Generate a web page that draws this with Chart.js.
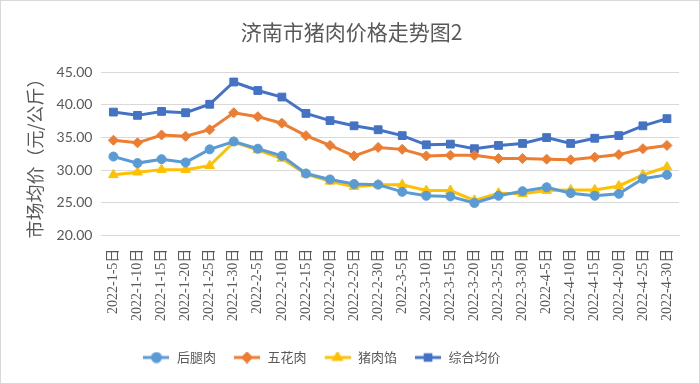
<!DOCTYPE html>
<html>
<head>
<meta charset="utf-8">
<script src="https://cdn.jsdelivr.net/npm/chart.js@4.4.1/dist/chart.umd.min.js"></script>
<style>
  html, body { margin: 0; padding: 0; background: #fff; }
  #wrap { width: 700px; height: 384px; box-sizing: border-box; border: 1px solid #d9d9d9; }
  canvas { display: block; }
</style>
</head>
<body>
<div id="wrap"><canvas id="chart" width="698" height="382"></canvas></div>
<script>
// Category labels (5-day intervals)
const dates = [
  '2022-1-5日', '2022-1-10日', '2022-1-15日', '2022-1-20日', '2022-1-25日', '2022-1-30日',
  '2022-2-5日', '2022-2-10日', '2022-2-15日', '2022-2-20日', '2022-2-25日', '2022-2-30日',
  '2022-3-5日', '2022-3-10日', '2022-3-15日', '2022-3-20日', '2022-3-25日', '2022-3-30日',
  '2022-4-5日', '2022-4-10日', '2022-4-15日', '2022-4-20日', '2022-4-25日', '2022-4-30日'
];

// Series values (yuan / kg)
const houTuiRou = [32.1, 31.1, 31.7, 31.2, 33.2, 34.4, 33.3, 32.2, 29.5, 28.6, 27.9, 27.8,
                   26.7, 26.1, 26.0, 25.0, 26.1, 26.8, 27.4, 26.5, 26.1, 26.4, 28.7, 29.3];
const wuHuaRou = [34.6, 34.2, 35.4, 35.2, 36.2, 38.8, 38.2, 37.2, 35.3, 33.8, 32.2, 33.5,
                  33.2, 32.2, 32.3, 32.3, 31.8, 31.8, 31.7, 31.6, 32.0, 32.4, 33.3, 33.8];
const zhuRouXian = [29.3, 29.7, 30.1, 30.1, 30.7, 34.3, 33.1, 31.8, 29.4, 28.3, 27.5, 27.8,
                    27.8, 26.9, 26.9, 25.4, 26.5, 26.4, 26.9, 27.0, 27.0, 27.6, 29.3, 30.5];
const zongHe = [38.9, 38.4, 39.0, 38.8, 40.1, 43.5, 42.2, 41.2, 38.7, 37.6, 36.8, 36.2,
                35.3, 33.9, 34.0, 33.3, 33.8, 34.1, 35.0, 34.1, 34.9, 35.3, 36.8, 37.9];

const yTicks = [20, 25, 30, 35, 40, 45];

const textColor = '#595959';
const gridColor = '#d9d9d9';
const cjkSans = "'Noto Sans CJK SC', 'Noto Sans', sans-serif";

const seriesStyles = [
  { label: '后腿肉', data: houTuiRou, color: '#5b9bd5', pointStyle: 'circle', radius: 4.5 },
  { label: '五花肉', data: wuHuaRou, color: '#ed7d31', pointStyle: 'rectRot', radius: 5 },
  { label: '猪肉馅', data: zhuRouXian, color: '#ffc000', pointStyle: 'triangle', radius: 5.5 },
  { label: '综合均价', data: zongHe, color: '#4472c4', pointStyle: 'rect', radius: 5.5 }
];

// small line+marker icons for the legend, Excel style
function makeLegendIcon(s) {
  const c = document.createElement('canvas');
  c.width = 26;
  c.height = 12;
  const g = c.getContext('2d');
  g.strokeStyle = s.color;
  g.lineWidth = 3;
  g.beginPath();
  g.moveTo(0, 6);
  g.lineTo(26, 6);
  g.stroke();
  g.fillStyle = s.color;
  Chart.helpers.drawPoint(g, { pointStyle: s.pointStyle, radius: 4, rotation: 0, borderWidth: 1 }, 13, 6);
  g.fill();
  return c;
}

// nudge the legend a bit left, like the original
const legendShift = {
  id: 'legendShift',
  afterLayout(chart) {
    if (chart.legend) chart.legend.right -= 60;
  }
};

const ctx = document.getElementById('chart');
const icons = [];

new Chart(ctx, {
  type: 'line',
  data: {
    labels: dates,
    datasets: seriesStyles.map(s => ({
      label: s.label,
      data: s.data,
      borderColor: s.color,
      backgroundColor: s.color,
      borderWidth: 3,
      pointStyle: s.pointStyle,
      pointRadius: s.radius,
      pointBorderWidth: 1,
      pointBorderColor: s.color,
      pointBackgroundColor: s.color,
      tension: 0
    }))
  },
  options: {
    responsive: false,
    animation: false,
    layout: {
      padding: { left: 23, right: 20, top: 0, bottom: 9 }
    },
    plugins: {
      title: {
        display: true,
        text: '济南市猪肉价格走势图2',
        color: textColor,
        font: { family: cjkSans, size: 21, weight: 'normal' },
        padding: { top: 18, bottom: 28 }
      },
      legend: {
        position: 'bottom',
        labels: {
          color: textColor,
          font: { family: cjkSans, size: 13 },
          usePointStyle: true,
          pointStyleWidth: 28,
          boxHeight: 12,
          padding: 17,
          generateLabels(chart) {
            const base = Chart.defaults.plugins.legend.labels.generateLabels(chart);
            return base.map((l, i) => {
              if (!icons[i]) icons[i] = makeLegendIcon(seriesStyles[i]);
              return Object.assign(l, { pointStyle: icons[i] });
            });
          }
        }
      },
      tooltip: { enabled: false }
    },
    scales: {
      x: {
        offset: true,
        grid: { display: false, drawTicks: false },
        border: { display: true, color: gridColor, width: 1 },
        ticks: {
          color: textColor,
          font: { family: "'Liberation Serif', 'Noto Sans CJK SC', serif", size: 14 },
          minRotation: 90,
          maxRotation: 90,
          autoSkip: false,
          padding: 13
        }
      },
      y: {
        min: 20,
        max: 45,
        afterBuildTicks(scale) {
          scale.ticks = yTicks.map(v => ({ value: v }));
        },
        grid: { color: gridColor, drawTicks: false },
        border: { display: false },
        ticks: {
          color: textColor,
          font: { family: "'Lato', 'Open Sans', sans-serif", size: 14 },
          padding: 9,
          callback: v => Number(v).toFixed(2)
        },
        title: {
          display: true,
          text: '市场均价（元/公斤）',
          color: textColor,
          font: { family: cjkSans, size: 18 },
          padding: { top: 0, bottom: 2 }
        }
      }
    }
  },
  plugins: [legendShift]
});
</script>
</body>
</html>
